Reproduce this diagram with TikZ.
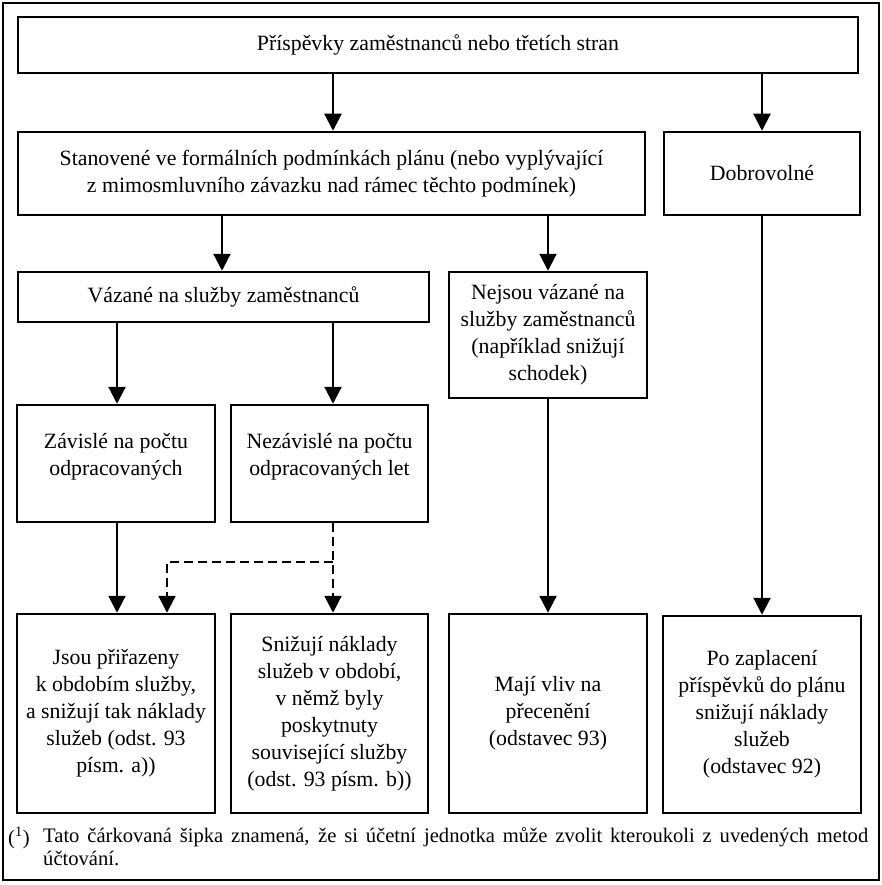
\documentclass[tikz,border=0pt]{standalone}
\usepackage{fontspec}
\setmainfont{Liberation Serif}
\usetikzlibrary{arrows.meta}
\begin{document}
\begin{tikzpicture}[x=1pt,y=-1pt,
  box/.style={draw, line width=2.5pt, inner sep=0pt, align=center, font=\fontsize{21.8}{27}\selectfont},
  txt/.style={align=center, inner sep=0pt, font=\fontsize{21.8}{27}\selectfont},
  arr/.style={line width=2.2pt, -{Triangle[width=17pt,length=17pt]}},
  darr/.style={arr, dash pattern=on 9pt off 5pt},
  fnote/.style={anchor=north west, inner sep=0pt, font=\fontsize{20.6}{23}\selectfont}]
\useasboundingbox (0,0) rectangle (882,885);
\node[draw, line width=2.6pt, minimum width=876pt, minimum height=877pt, inner sep=0pt] (frame) at (441,441.5) {};
% column coordinates
\coordinate (xA) at (117,0);
\coordinate (xD) at (167,0);
\coordinate (xS) at (222,0);
\coordinate (xB) at (333,0);
\coordinate (xC) at (548,0);
\coordinate (xE) at (762,0);
% boxes
\node[box, minimum width=840pt, minimum height=56pt] (top) at (438,45) {Příspěvky zaměstnanců nebo třetích stran};
\node[box, minimum width=627pt, minimum height=83pt] (stan) at (331.5,173.5) {Stanovené ve formálních podmínkách plánu (nebo vyplývající\\z mimosmluvního závazku nad rámec těchto podmínek)};
\node[box, minimum width=196pt, minimum height=83pt] (dobr) at (762,173.5) {Dobrovolné};
\node[box, minimum width=411pt, minimum height=50pt] (vaz) at (223.5,297) {Vázané na služby zaměstnanců};
\node[box, minimum width=198pt, minimum height=126pt] (nej) at (548,335) {Nejsou vázané na\\služby zaměstnanců\\(například snižují\\schodek)};
\node[box, minimum width=198pt, minimum height=117pt] (zav) at (116,463.5) {};
\node[txt] (zavt) at (116,457) {Závislé na počtu\\odpracovaných};
\node[box, minimum width=197pt, minimum height=117pt] (nez) at (329.5,463.5) {};
\node[txt] (nezt) at (329.5,457) {Nezávislé na počtu\\odpracovaných let};
\node[box, minimum width=198pt, minimum height=199pt] (b1) at (116,713.5) {Jsou přiřazeny\\k obdobím služby,\\a snižují tak náklady\\služeb (odst. 93\\písm. a))};
\node[box, minimum width=197pt, minimum height=199pt] (b2) at (329.5,713.5) {Snižují náklady\\služeb v období,\\v němž byly\\poskytnuty\\související služby\\(odst. 93 písm. b))};
\node[box, minimum width=198pt, minimum height=199pt] (b3) at (548,713.5) {Mají vliv na\\přecenění\\(odstavec 93)};
\node[box, minimum width=198pt, minimum height=197pt] (b4) at (762,714.5) {Po zaplacení\\příspěvků do plánu\\snižují náklady\\služeb\\(odstavec 92)};
% connectors
\draw[arr] (top.south -| xB) -- (stan.north -| xB);
\draw[arr] (top.south -| xE) -- (dobr.north -| xE);
\draw[arr] (stan.south -| xS) -- (vaz.north -| xS);
\draw[arr] (stan.south -| xC) -- (nej.north -| xC);
\draw[arr] (vaz.south -| xA) -- (zav.north -| xA);
\draw[arr] (vaz.south -| xB) -- (nez.north -| xB);
\draw[arr] (zav.south -| xA) -- (b1.north -| xA);
\draw[darr] (nez.south -| xB) -- (b2.north -| xB);
\coordinate (dj) at (333,562);
\draw[darr] (dj) -| (b1.north -| xD);
\draw[arr] (nej.south -| xC) -- (b3.north -| xC);
\draw[arr] (dobr.south -| xE) -- (b4.north -| xE);
% footnote
\node[fnote] (fnm) at (8,827) {(\textsuperscript{1})};
\node[fnote, text width=825pt, align=justify] (fn) at (43,827) {Tato čárkovaná šipka znamená, že si účetní jednotka může zvolit kteroukoli z uvedených metod\linebreak účtování.};
\end{tikzpicture}
\end{document}
